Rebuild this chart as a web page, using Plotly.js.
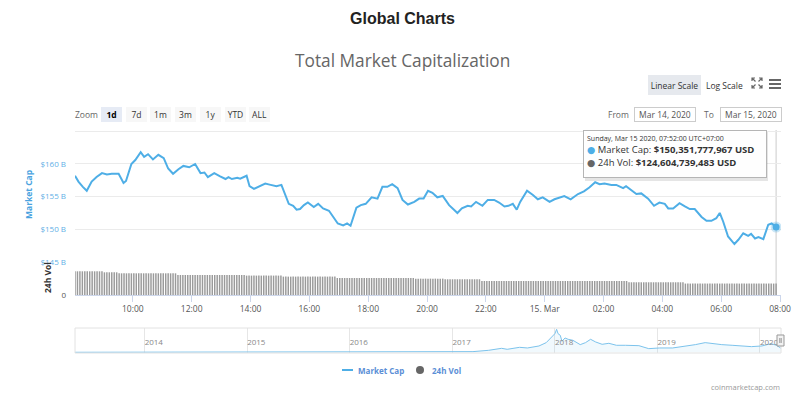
<!DOCTYPE html>
<html>
<head>
<meta charset="utf-8">
<script src="https://cdn.plot.ly/plotly-3.0.1.min.js"></script>
<style>
html,body{margin:0;padding:0;background:#fff;}
#chart{width:805px;height:395px;}
</style>
</head>
<body>
<div id="chart"></div>
<script>
// ---------- DATA ----------
const mcapTimes = [
'2020-03-14 08:02','2020-03-14 08:09','2020-03-14 08:18','2020-03-14 08:26','2020-03-14 08:36','2020-03-14 08:46',
'2020-03-14 08:57','2020-03-14 09:07','2020-03-14 09:17','2020-03-14 09:31','2020-03-14 09:41','2020-03-14 09:46',
'2020-03-14 09:57','2020-03-14 10:05','2020-03-14 10:16','2020-03-14 10:23','2020-03-14 10:31','2020-03-14 10:41',
'2020-03-14 10:52','2020-03-14 11:03','2020-03-14 11:12','2020-03-14 11:22','2020-03-14 11:33','2020-03-14 11:43',
'2020-03-14 11:55','2020-03-14 12:07','2020-03-14 12:18','2020-03-14 12:26','2020-03-14 12:33','2020-03-14 12:46',
'2020-03-14 12:58','2020-03-14 13:09','2020-03-14 13:15','2020-03-14 13:22','2020-03-14 13:33','2020-03-14 13:39',
'2020-03-14 13:52','2020-03-14 13:58','2020-03-14 14:07','2020-03-14 14:20','2020-03-14 14:30','2020-03-14 14:41',
'2020-03-14 14:53','2020-03-14 15:03','2020-03-14 15:11','2020-03-14 15:18','2020-03-14 15:27','2020-03-14 15:34',
'2020-03-14 15:41','2020-03-14 15:49','2020-03-14 15:57','2020-03-14 16:09','2020-03-14 16:18','2020-03-14 16:28',
'2020-03-14 16:40','2020-03-14 16:49','2020-03-14 16:58','2020-03-14 17:09','2020-03-14 17:17','2020-03-14 17:24',
'2020-03-14 17:36','2020-03-14 17:45','2020-03-14 17:55','2020-03-14 18:07','2020-03-14 18:19','2020-03-14 18:29',
'2020-03-14 18:39','2020-03-14 18:49','2020-03-14 19:00','2020-03-14 19:10','2020-03-14 19:21','2020-03-14 19:34',
'2020-03-14 19:44','2020-03-14 19:53','2020-03-14 20:02','2020-03-14 20:11','2020-03-14 20:21','2020-03-14 20:32',
'2020-03-14 20:45','2020-03-14 20:55','2020-03-14 21:02','2020-03-14 21:11','2020-03-14 21:23','2020-03-14 21:30',
'2020-03-14 21:40','2020-03-14 21:53','2020-03-14 22:04','2020-03-14 22:17','2020-03-14 22:27','2020-03-14 22:38',
'2020-03-14 22:46','2020-03-14 22:55','2020-03-14 23:03','2020-03-14 23:10','2020-03-14 23:24','2020-03-14 23:36',
'2020-03-14 23:46','2020-03-14 23:56','2020-03-15 00:10','2020-03-15 00:20','2020-03-15 00:30','2020-03-15 00:40',
'2020-03-15 00:53','2020-03-15 01:08','2020-03-15 01:20','2020-03-15 01:31','2020-03-15 01:43','2020-03-15 01:52',
'2020-03-15 02:02','2020-03-15 02:16','2020-03-15 02:26','2020-03-15 02:40','2020-03-15 02:46','2020-03-15 02:57',
'2020-03-15 03:07','2020-03-15 03:17','2020-03-15 03:31','2020-03-15 03:43','2020-03-15 03:54','2020-03-15 04:05',
'2020-03-15 04:12','2020-03-15 04:22','2020-03-15 04:35','2020-03-15 04:46','2020-03-15 04:56','2020-03-15 05:06',
'2020-03-15 05:20','2020-03-15 05:30','2020-03-15 05:40','2020-03-15 05:50','2020-03-15 05:57','2020-03-15 06:04',
'2020-03-15 06:14','2020-03-15 06:27','2020-03-15 06:35','2020-03-15 06:45','2020-03-15 06:55','2020-03-15 07:01',
'2020-03-15 07:09','2020-03-15 07:16','2020-03-15 07:26','2020-03-15 07:36','2020-03-15 07:43','2020-03-15 07:52'
];
// Market cap, billions USD
const mcapValues = [
158.2,157.3,156.5,155.9,157.3,158.0,
158.6,158.4,158.5,158.5,157.1,157.4,
160.0,160.6,161.8,161.1,161.5,160.7,
161.4,160.9,159.3,158.5,159.2,159.7,
159.5,160.0,158.6,158.7,158.0,158.6,
158.1,157.7,158.0,157.7,157.9,157.75,
158.2,156.6,156.2,156.6,157.0,156.8,
156.6,156.8,155.25,153.9,153.6,153.0,
153.1,153.7,154.1,153.4,153.9,153.2,
152.85,151.8,150.9,150.6,150.9,150.55,
153.3,153.7,153.9,154.9,154.7,156.5,
156.5,156.9,156.3,154.5,153.8,154.2,
154.7,154.7,155.9,155.6,154.9,155.1,
153.7,153.0,152.5,153.2,153.6,153.5,
154.2,153.6,154.5,154.5,154.1,153.5,
153.6,153.9,153.0,154.2,155.9,155.25,
154.6,154.9,154.2,154.6,154.9,155.1,
154.6,155.4,155.8,156.4,157.2,156.9,
157.0,156.8,156.8,156.3,156.6,156.0,
155.4,155.5,154.7,153.6,154.1,153.9,
153.2,153.2,154.0,153.5,153.1,153.1,
151.9,151.3,151.3,151.7,152.5,151.2,
148.9,147.75,148.4,149.4,149.0,149.3,
148.6,148.8,148.5,150.7,150.9,150.351777967
];
// 24h volume, billions USD, one bar per 5 minutes starting at volStart
const volStart = '2020-03-14 08:02';
const volValues = [
259,259,259,259,259,259,259,259,259,259,259,259,
248,248,248,248,248,248,
237,237,237,237,237,237,237,237,237,237,237,237,237,237,237,237,237,237,237,237,237,237,237,237,
219,219,219,219,219,219,219,219,219,219,219,219,219,219,219,219,219,219,219,219,219,219,219,219,219,219,219,219,
212,212,212,212,212,212,212,212,212,212,212,212,212,212,212,
201,201,201,201,201,201,201,201,201,201,201,201,201,201,201,201,201,201,201,201,201,201,
186,186,186,186,186,186,186,186,186,186,186,186,186,186,186,186,186,186,186,186,186,186,186,186,186,186,186,186,186,186,186,186,
179,179,179,179,179,179,179,179,179,179,179,179,
172,172,172,172,172,172,172,172,172,172,172,172,172,172,172,
153,153,153,153,153,153,153,153,153,153,153,153,153,153,153,153,153,153,153,153,
153,153,153,153,153,153,153,153,153,153,153,153,153,153,153,153,153,153,153,153,
153,153,153,153,153,153,153,153,153,153,153,153,153,153,153,153,153,153,153,153,
139,139,139,139,139,139,139,139,139,139,139,139,139,139,139,139,139,139,139,139,139,139,139,
125,125,125,125,125,125,125,125,125,125,125,125,125,125,125,125,125,125,125,125,
125,125,125,125,125,125,125,125,125,125,125,125,125,125,125,125,125,124.604739483
];
// Navigator: full history of total market cap (billions USD)
const navDates = [
'2013-04-28','2013-10-01','2013-12-04','2014-01-15','2014-06-01','2014-12-01','2015-06-01','2015-12-01',
'2016-06-15','2016-12-01','2017-01-01','2017-03-15','2017-05-10','2017-06-25','2017-07-15','2017-08-28',
'2017-09-25','2017-11-05','2017-12-01','2017-12-20','2018-01-01','2018-01-07','2018-01-12','2018-01-20',
'2018-01-26','2018-02-06','2018-02-17','2018-03-06','2018-04-01','2018-04-20','2018-05-08','2018-05-26',
'2018-06-18','2018-07-12','2018-08-08','2018-09-09','2018-10-27','2018-12-01','2019-01-08','2019-02-24',
'2019-04-13','2019-05-16','2019-06-20','2019-07-13','2019-08-18','2019-09-24','2019-10-27','2019-12-02',
'2020-01-08','2020-02-10','2020-03-01','2020-03-15'
];
const navValues = [
1.5,2,14,10,8,5,5,6,
11,12,17,24,72,144,108,180,
156,228,349,553,674,830,674,613,
397,517,469,433,277,349,469,373,
289,325,253,253,240,132,156,156,
217,277,349,313,277,253,229,205,
229,313,250,150
];
// Tick labels
const yTickVals = [145,150,155,160,165];
const yTickText = ['$145 B','$150 B','$155 B','$160 B',''];
const xTickVals = ['2020-03-14 10:00','2020-03-14 12:00','2020-03-14 14:00','2020-03-14 16:00','2020-03-14 18:00',
  '2020-03-14 20:00','2020-03-14 22:00','2020-03-15 00:00','2020-03-15 02:00','2020-03-15 04:00','2020-03-15 06:00','2020-03-15 08:00'];
const xTickText = ['10:00','12:00','14:00','16:00','18:00','20:00','22:00','15. Mar','02:00','04:00','06:00','08:00'];
const navTickVals = ['2014-01-01','2015-01-01','2016-01-01','2017-01-01','2018-01-01','2019-01-01','2020-01-01'];
const navTickText = ['2014','2015','2016','2017','2018','2019','2020'];
const rangeButtons = ['1d','7d','1m','3m','1y','YTD','ALL'];
const seriesNames = ['Market Cap','24h Vol'];
const tooltipHeader = 'Sunday, Mar 15 2020, 07:52:00 UTC+07:00';

// ---------- LAYOUT HELPERS ----------
const W = 805, H = 395;
const px = x => x / W;
const py = y => 1 - y / H;
const BLUE = '#4eaee6';
const VOLGRAY = '#9a9a9a';
const FONT = 'Open Sans, DejaVu Sans, sans-serif';

const lastIdx = mcapTimes.length - 1;
const lastTime = mcapTimes[lastIdx];
const lastCap = mcapValues[lastIdx];
const lastVol = volValues[volValues.length - 1];
const fmtUSD = b => '$' + Math.round(b * 1e9).toLocaleString('en-US') + ' USD';

const traces = [
  {
    type: 'bar', name: seriesNames[1], x0: volStart, dx: 5 * 60 * 1000, y: volValues,
    xaxis: 'x', yaxis: 'y2', marker: {color: VOLGRAY, line: {width: 0}},
    showlegend: false, hoverinfo: 'skip'
  },
  {
    type: 'scatter', mode: 'lines', name: seriesNames[0], x: mcapTimes, y: mcapValues,
    xaxis: 'x', yaxis: 'y', line: {color: BLUE, width: 2}, showlegend: false, hoverinfo: 'skip'
  },
  {
    type: 'scatter', mode: 'markers', x: [lastTime], y: [lastCap], xaxis: 'x', yaxis: 'y',
    marker: {color: BLUE, size: 7, line: {color: 'rgba(78,174,230,0.3)', width: 4}},
    showlegend: false, hoverinfo: 'skip'
  },
  {
    type: 'scatter', mode: 'lines', x: navDates, y: navValues, xaxis: 'x2', yaxis: 'y3',
    fill: 'tozeroy', fillcolor: 'rgba(78,174,230,0.08)', line: {color: '#7cc3ec', width: 1},
    showlegend: false, hoverinfo: 'skip'
  }
];

const annotations = [];
function ann(o) {
  annotations.push(Object.assign({xref: 'paper', yref: 'paper', showarrow: false,
    xanchor: 'center', yanchor: 'middle', font: {family: FONT, size: 9, color: '#333'}}, o));
}
ann({x: px(402), y: py(60), text: 'Total Market Capitalization', font: {family: FONT, size: 17.3, color: '#666'}});
ann({x: px(86), y: py(114.5), text: 'Zoom', font: {family: FONT, size: 8.5, color: '#666'}});
rangeButtons.forEach((b, i) => {
  ann({x: px(111.5 + i * 24.7), y: py(114.5), text: b, width: 19, height: 13, borderpad: 1, borderwidth: 0,
    bgcolor: i === 0 ? '#e6ebf5' : '#f7f7f7',
    font: {family: FONT, size: 8.5, color: i === 0 ? '#000' : '#333', weight: i === 0 ? 'bold' : 'normal'}});
});
ann({x: px(674.2), y: py(85), text: 'Linear Scale', width: 49, height: 16, borderpad: 2, borderwidth: 0,
  bgcolor: '#e6e9ee', font: {family: FONT, size: 8.5, color: '#333'}});
ann({x: px(724.5), y: py(85), text: 'Log Scale', font: {family: FONT, size: 8.5, color: '#333'}});
ann({x: px(618.5), y: py(114.5), text: 'From', font: {family: FONT, size: 8.5, color: '#666'}});
ann({x: px(665), y: py(114.7), text: 'Mar 14, 2020', width: 58, height: 11, borderpad: 1, borderwidth: 1,
  bordercolor: '#cccccc', bgcolor: '#fff', font: {family: FONT, size: 8.5, color: '#555'}});
ann({x: px(709), y: py(114.5), text: 'To', font: {family: FONT, size: 8.5, color: '#666'}});
ann({x: px(751), y: py(114.7), text: 'Mar 15, 2020', width: 58, height: 11, borderpad: 1, borderwidth: 1,
  bordercolor: '#cccccc', bgcolor: '#fff', font: {family: FONT, size: 8.5, color: '#555'}});
ann({x: px(28), y: py(195), text: seriesNames[0], textangle: -90,
  font: {family: FONT, size: 8.5, color: '#4aa3df', weight: 'bold'}});
ann({x: px(47), y: py(278), text: seriesNames[1], textangle: -90,
  font: {family: FONT, size: 8.5, color: '#333', weight: 'bold'}});
ann({x: px(583), y: py(130), xanchor: 'left', yanchor: 'top', align: 'left', valign: 'top',
  width: 176, height: 40, borderpad: 3, borderwidth: 1, bordercolor: '#b5b5b5', bgcolor: 'rgba(255,255,255,0.96)',
  text: '<span style="font-size:7px">' + tooltipHeader + '</span><br>' +
        '<span style="color:' + BLUE + '">●</span> ' + seriesNames[0] + ': <b>' + fmtUSD(lastCap) + '</b><br>' +
        '<span style="color:#666">●</span> ' + seriesNames[1] + ': <b>' + fmtUSD(lastVol) + '</b>',
  font: {family: FONT, size: 9.5, color: '#333'}});
ann({x: px(782), y: py(387), xanchor: 'right', text: 'coinmarketcap.com',
  font: {family: FONT, size: 7.5, color: '#999'}});
// legend labels
ann({x: px(356), y: py(370), xanchor: 'left', text: seriesNames[0],
  font: {family: FONT, size: 8, color: '#5a8ed6', weight: 'bold'}});
ann({x: px(429.5), y: py(370), xanchor: 'left', text: seriesNames[1],
  font: {family: FONT, size: 8, color: '#5a8ed6', weight: 'bold'}});

// decorative shapes (icons, legend symbols, navigator frame, crosshair, tooltip shadow)
const shapes = [];
function pPath(pts) {
  return pts.map(s => s.map((p, i) => (i === 0 ? 'M' : 'L') + px(p[0]).toFixed(5) + ',' + py(p[1]).toFixed(5)).join(' ')).join(' ');
}
// fullscreen icon
shapes.push({type: 'path', xref: 'paper', yref: 'paper', line: {color: '#666', width: 1.2},
  path: pPath([
    [[752,81],[752,78],[755,78]], [[752,78],[755.5,81.5]],
    [[759,78],[762,78],[762,81]], [[762,78],[758.5,81.5]],
    [[752,85],[752,88],[755,88]], [[752,88],[755.5,84.5]],
    [[759,88],[762,88],[762,85]], [[762,88],[758.5,84.5]]
  ])});
// hamburger menu
[80, 84, 88].forEach(y => shapes.push({type: 'rect', xref: 'paper', yref: 'paper',
  x0: px(769), x1: px(781), y0: py(y + 1), y1: py(y - 1), fillcolor: '#666', line: {width: 0}}));
// legend symbols
shapes.push({type: 'line', xref: 'paper', yref: 'paper', x0: px(342), x1: px(353), y0: py(370), y1: py(370),
  line: {color: BLUE, width: 2}});
shapes.push({type: 'circle', xref: 'paper', yref: 'paper', x0: px(416), x1: px(424), y0: py(374), y1: py(366),
  fillcolor: '#666', line: {width: 0}});
// navigator frame
shapes.push({type: 'rect', xref: 'paper', yref: 'paper', x0: px(75), x1: px(781), y0: py(353), y1: py(328),
  line: {color: '#e2e2e2', width: 1}, fillcolor: 'rgba(0,0,0,0)'});
// navigator handle
shapes.push({type: 'rect', xref: 'paper', yref: 'paper', x0: px(777), x1: px(784), y0: py(346), y1: py(335),
  line: {color: '#999', width: 1}, fillcolor: '#f2f2f2'});
shapes.push({type: 'path', xref: 'paper', yref: 'paper', line: {color: '#999', width: 1},
  path: pPath([[[779.8,338],[779.8,343]], [[781.2,338],[781.2,343]]])});
// crosshair at last point
shapes.push({type: 'line', xref: 'x', yref: 'paper', x0: lastTime, x1: lastTime, y0: py(295), y1: py(130),
  line: {color: '#cccccc', width: 1}, layer: 'below'});
// tooltip shadow
shapes.push({type: 'rect', xref: 'paper', yref: 'paper', x0: px(585), x1: px(768), y0: py(181), y1: py(132),
  fillcolor: 'rgba(0,0,0,0.10)', line: {width: 0}});

const layout = {
  width: W, height: H,
  margin: {l: 0, r: 0, t: 0, b: 0, pad: 0},
  paper_bgcolor: '#fff', plot_bgcolor: 'rgba(0,0,0,0)',
  font: {family: FONT, color: '#333'},
  title: {text: 'Global Charts', x: 0.5, xanchor: 'center', xref: 'paper', y: py(18), yref: 'container', yanchor: 'middle',
    font: {family: 'Liberation Sans, Arial, sans-serif', size: 16, color: '#222', weight: 'bold'}},
  bargap: 0.4,
  showlegend: false,
  xaxis: {
    domain: [px(75), px(781)], anchor: 'y2', type: 'date',
    range: ['2020-03-14 08:02', '2020-03-15 08:02'],
    tickmode: 'array', tickvals: xTickVals, ticktext: xTickText,
    ticks: 'outside', ticklen: 6, tickcolor: '#ccd6eb', tickwidth: 1,
    showline: true, linecolor: '#ccd6eb', linewidth: 1, showgrid: false, zeroline: false,
    tickfont: {family: FONT, size: 8.5, color: '#555'}, fixedrange: true
  },
  yaxis: {
    domain: [py(262), py(130)], anchor: 'x', range: [145, 165.2],
    tickmode: 'array', tickvals: yTickVals, ticktext: yTickText,
    showgrid: true, gridcolor: '#ebebeb', zeroline: false, showline: false, ticks: '',
    ticklabelstandoff: 8,
    tickfont: {family: FONT, size: 8, color: '#5fb0e6'}, fixedrange: true
  },
  yaxis2: {
    domain: [py(295), py(264)], anchor: 'x', range: [0, 339],
    tickmode: 'array', tickvals: [0], ticktext: ['0'],
    showgrid: false, zeroline: false, showline: false, ticks: '', ticklabelstandoff: 8,
    tickfont: {family: FONT, size: 8, color: '#555'}, fixedrange: true
  },
  xaxis2: {
    domain: [px(75), px(781)], anchor: 'y3', type: 'date',
    range: ['2013-04-28', '2020-03-16'],
    tickmode: 'array', tickvals: navTickVals, ticktext: navTickText,
    ticklabelposition: 'inside right', ticks: '', showgrid: true, gridcolor: '#e6e6e6',
    showline: false, zeroline: false,
    tickfont: {family: FONT, size: 8, color: '#888'}, fixedrange: true
  },
  yaxis3: {
    domain: [py(353), py(328)], anchor: 'x2', range: [-25, 877],
    visible: false, showgrid: false, zeroline: false, fixedrange: true
  },
  annotations: annotations,
  shapes: shapes
};

Plotly.newPlot('chart', traces, layout, {displayModeBar: false, staticPlot: true});
</script>
</body>
</html>
